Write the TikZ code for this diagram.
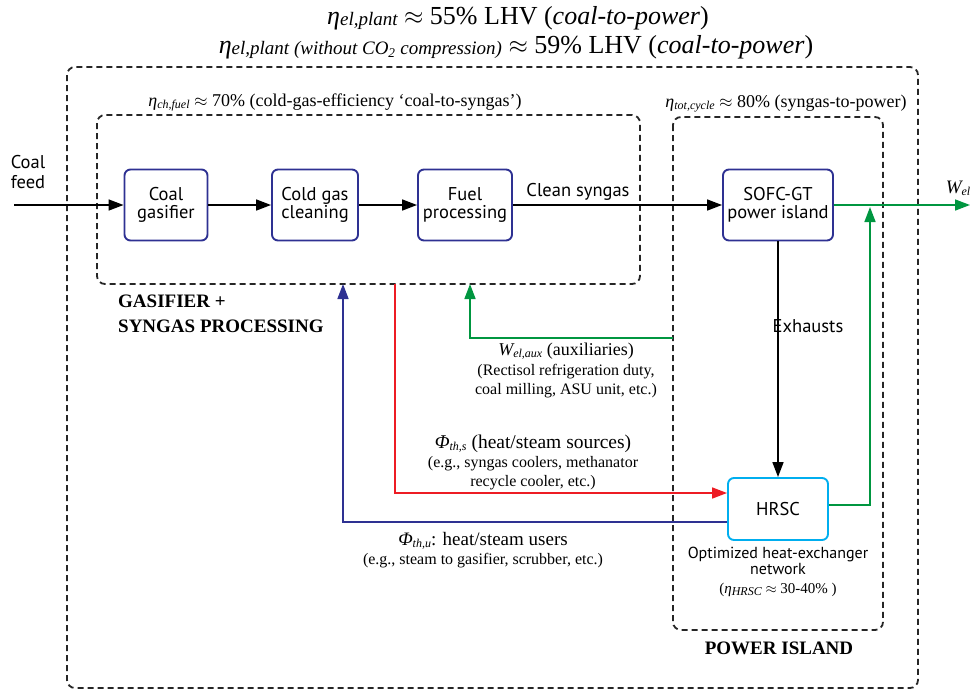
\documentclass[tikz,border=0pt]{standalone}
\usepackage{fontspec}
\setmainfont{Liberation Serif}
\newfontfamily\boxfont{PT Sans}
\usetikzlibrary{arrows.meta}
\definecolor{c1}{RGB}{46,49,146}
\definecolor{c2}{RGB}{0,174,239}
\definecolor{c3}{RGB}{0,150,64}
\definecolor{c4}{RGB}{237,28,36}
\newcommand{\fs}[1]{\fontsize{#1}{#1}\selectfont}
\newcommand{\sub}[1]{\raisebox{-2pt}{\fs{12}\itshape #1}}
\newcommand{\bigsub}[1]{\raisebox{-1pt}{\fs{19}\itshape #1}}

\begin{document}
\begin{tikzpicture}[x=1pt,y=-1pt,
    unit/.style={draw=c1,line width=1.9pt,rounded corners=6pt,minimum height=71pt,align=center,font=\boxfont\fs{18.5}},
    zone/.style={draw=black!85,line width=1.8pt,dash pattern=on 6pt off 4pt,rounded corners=8pt},
    flow/.style={line width=1.6pt,-{Triangle[length=15pt,width=11pt]}},
    txt/.style={align=center,inner sep=0pt}]
    \useasboundingbox (0,0) rectangle (973,691);
    % dashed boundaries
    \draw[zone] (67,67) rectangle (918,688);
    \draw[zone] (97,115) rectangle (640,284);
    \draw[zone] (673,117) rectangle (883,630);

    % titles
    \node[txt] (t1) at (518,18) {\fs{26}{\itshape η\bigsub{el,plant}} $\approx$ 55\% LHV (\textit{coal-to-power})};
    \node[txt] (t2) at (516,47) {\fs{26}{\itshape η\bigsub{el,plant (without CO\textsubscript{2} compression)}} $\approx$ 59\% LHV (\textit{coal-to-power})};
    \node[txt] (t3) at (335,102) {\fs{18}{\itshape η\sub{ch,fuel}} $\approx$ 70\% (cold-gas-efficiency ‘coal-to-syngas’)};
    \node[txt] (t4) at (786,104) {\fs{18}{\itshape η\sub{tot,cycle}} $\approx$ 80\% (syngas-to-power)};

    % units
    \node[unit,minimum width=83pt] (gas) at (166,205) {Coal\\gasifier};
    \node[unit,minimum width=86pt] (clean) at (315,205) {Cold gas\\cleaning};
    \node[unit,minimum width=94pt] (fuel) at (465,205) {Fuel\\processing};
    \node[unit,minimum width=110pt] (sofc) at (778,205) {SOFC-GT\\power island};
    \node[unit,draw=c2,minimum width=100pt,minimum height=62pt] (hrsc) at (778,509) {HRSC};

    \coordinate (feed) at (14,205);
    \coordinate (wel) at (970,205);
    \coordinate (mix) at (870,207);
    \coordinate (auxin) at (673,338);
    \coordinate (auxout) at (470,284);
    \coordinate (srcout) at (395,284);
    \coordinate (usein) at (343,284);

    % main line
    \node[txt,font=\boxfont\fs{18.5}] (coal) at (28,172) {Coal\\[2pt]feed};
    \draw[flow] (feed) -- (gas);
    \draw[flow] (gas) -- (clean);
    \draw[flow] (clean) -- (fuel);
    \draw[flow] (fuel) -- (sofc);
    \node[txt,font=\boxfont\fs{18.5}] (syn) at (578,192) {Clean syngas};
    \draw[flow] (sofc) -- (hrsc);
    \node[txt,font=\boxfont\fs{18.5}] (exh) at (808,326) {Exhausts};

    % power and heat
    \draw[flow,c3] (sofc.east) -- (wel);
    \node[txt] (w) at (958,188) {\fs{19}\itshape W\sub{el}};
    \draw[flow,c3] ([yshift=4pt]hrsc.east) -| (mix);
    \draw[flow,c3] (auxin) -| (auxout);
    \draw[flow,c4] (srcout) |- ([yshift=16pt]hrsc.west);
    \draw[flow,c1] ([yshift=-13pt]hrsc.west) -| (usein);

    % labels
    \node[txt,anchor=west,font=\bfseries\fs{19}] (gl) at (118,301) {GASIFIER +};
    \node[txt,anchor=west,font=\bfseries\fs{19}] (gl2) at (118,326) {SYNGAS PROCESSING};
    \node[txt] (aux) at (566,351) {\fs{18}{\itshape W\sub{el,aux}} (auxiliaries)};
    \node[txt] (aux2) at (566,381) {\fs{16}(Rectisol refrigeration duty,\\[3pt]\fs{16}coal milling, ASU unit, etc.)};
    \node[txt] (src) at (533,444) {\fs{19.5}{\itshape Φ\sub{th,s}} (heat/steam sources)};
    \node[txt] (src2) at (533,473) {\fs{16}(e.g., syngas coolers, methanator\\[3pt]\fs{16}recycle cooler, etc.)};
    \node[txt] (use) at (483,541) {\fs{19}{\itshape Φ\sub{th,u}}: heat/steam users};
    \node[txt] (use2) at (483,561) {\fs{16}(e.g., steam to gasifier, scrubber, etc.)};
    \node[txt,font=\boxfont\fs{16}] (net) at (778,561) {Optimized heat-exchanger\\network};
    \node[txt] (eff) at (778,590) {\fs{15}({\itshape η\sub{HRSC}} $\approx$ 30-40\% )};
    \node[txt,font=\bfseries\fs{19}] (pi) at (779,648) {POWER ISLAND};
\end{tikzpicture}
\end{document}
